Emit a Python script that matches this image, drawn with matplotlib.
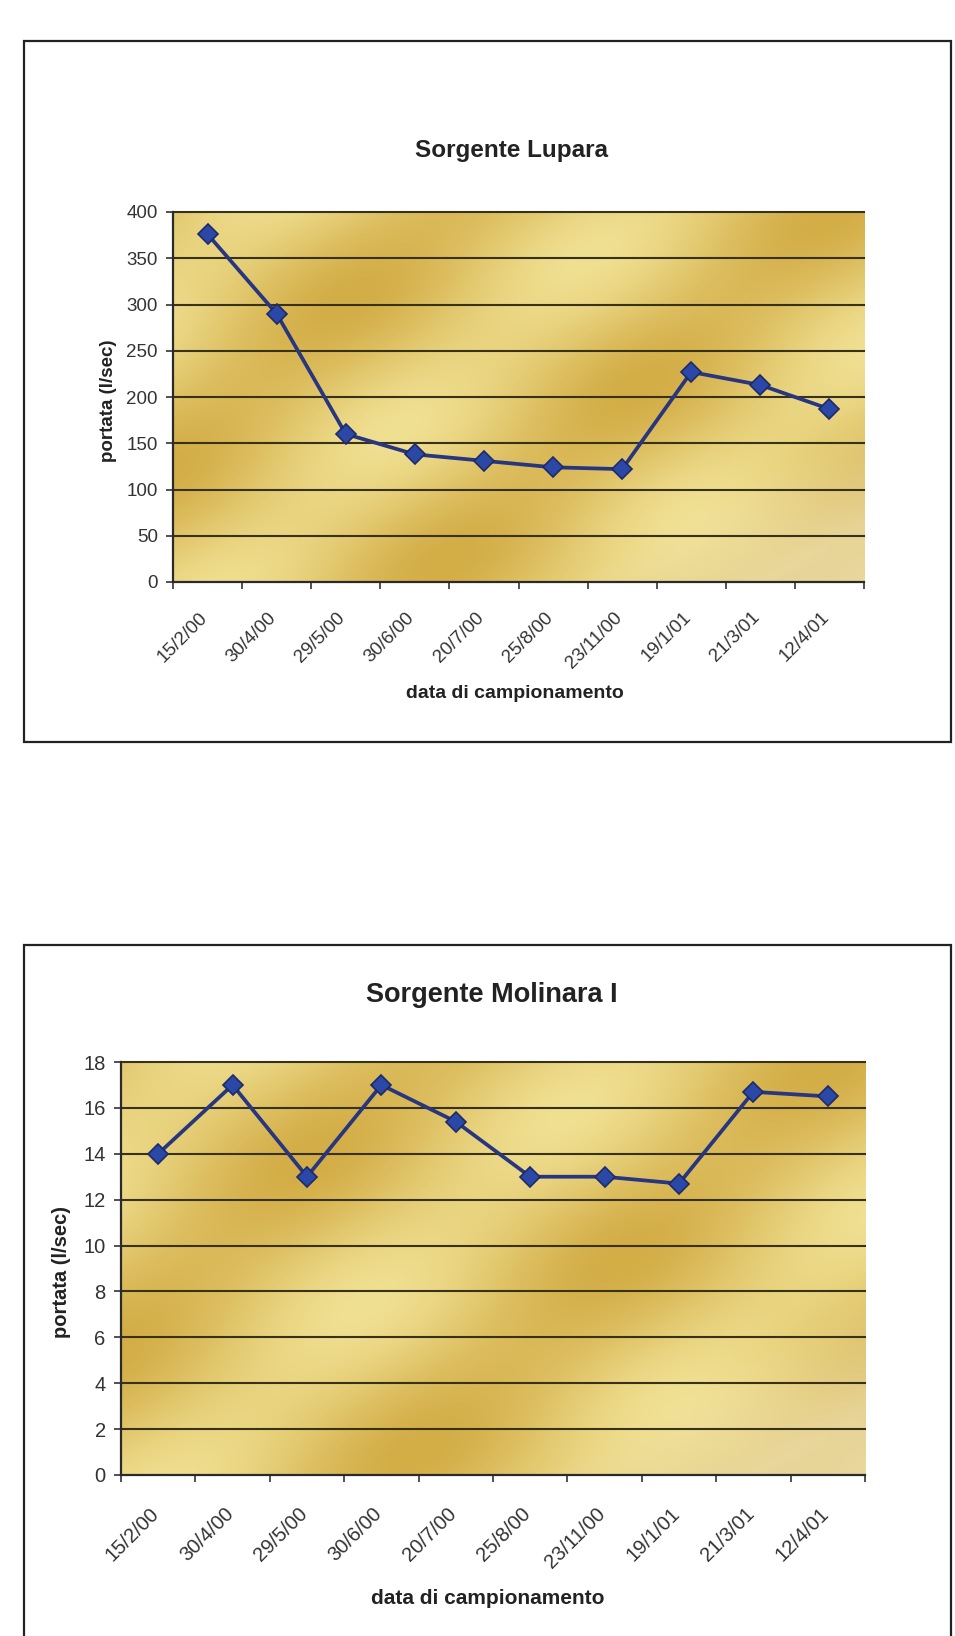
import numpy as np
import matplotlib
matplotlib.use("Agg")
import matplotlib.pyplot as plt
import matplotlib.transforms as mtransforms
from matplotlib.patches import Rectangle

plt.rcParams['font.family'] = ['Liberation Sans', 'DejaVu Sans']

# sampling dates (same for both springs)
date_labels = ["15/2/00", "30/4/00", "29/5/00", "30/6/00", "20/7/00",
               "25/8/00", "23/11/00", "19/1/01", "21/3/01", "12/4/01"]

# portata (l/sec)
lupara = [376, 290, 160, 138, 131, 124, 122, 227, 213, 187]
molinara = [14, 17, 13, 17, 15.4, 13, 13, 12.7, 16.7, 16.5]

lupara_ticks = [0, 50, 100, 150, 200, 250, 300, 350, 400]
molinara_ticks = [0, 2, 4, 6, 8, 10, 12, 14, 16, 18]

W, H = 955, 1636
fig = plt.figure(figsize=(W / 100, H / 100), dpi=100)
fig.patch.set_facecolor('white')


def fx(px):
    return px / W


def fy(py):
    return 1 - py / H


def gold_background(ax):
    # diagonal gold shading like the excel "gold" fill
    u, v = np.meshgrid(np.linspace(0, 1, 500), np.linspace(0, 1, 350))
    d = 0.85 * u - 0.5 * v
    t = (0.5 + 0.38 * np.sin(2 * np.pi * (d * 2.1 + 0.1))
         + 0.12 * np.sin(2 * np.pi * (u * 0.9 + v * 1.6 + 0.3)))
    t = np.clip(t, 0, 1)
    light = np.array([240, 224, 146]) / 255
    dark = np.array([211, 173, 70]) / 255
    img = dark + (light - dark) * t[..., None]
    # lighter bottom-right corner
    corner = np.clip((u - 0.78) * 3.5 + (0.22 - v) * 3.5, 0, 1)[..., None] * 0.55
    img = img + (np.array([243, 236, 205]) / 255 - img) * corner
    ax.imshow(img, extent=[0, 1, 0, 1], transform=ax.transAxes, origin='lower',
              aspect='auto', zorder=0, interpolation='bicubic')


def draw_chart(ax, values, yticks, title, title_xy, xlab_xy, ylab_xy, fs, tfs, dx, dy):
    n = len(values)
    x = np.arange(n) + 0.5
    gold_background(ax)
    for yt in yticks[1:]:
        ax.axhline(yt, color='#38321a', lw=1.5, zorder=1, clip_on=False)
    ax.plot(x, values, color='#27367f', lw=2.7, zorder=3,
            marker='D', markersize=10.5, markerfacecolor='#2b48a6',
            markeredgecolor='#1d2a6a', markeredgewidth=1.2)
    ax.set_xlim(0, n)
    ax.set_ylim(yticks[0], yticks[-1])
    ax.set_yticks(yticks)
    ax.set_yticklabels([str(t) for t in yticks])
    ax.set_xticks(np.arange(n + 1))
    ax.set_xticklabels([])
    ax.set_xticks(x, minor=True)
    ax.set_xticklabels(date_labels, minor=True)
    ax.tick_params(axis='y', length=5, width=1.2, color='#333', labelsize=fs, labelcolor='#333', pad=6)
    ax.tick_params(axis='x', which='major', length=5, width=1.2, color='#333')
    ax.tick_params(axis='x', which='minor', length=0, pad=0, labelsize=fs, labelcolor='#333')
    off = mtransforms.ScaledTranslation(dx / 100, -dy / 100, fig.dpi_scale_trans)
    for lab in ax.get_xticklabels(minor=True):
        lab.set_rotation(45)
        lab.set_ha('right')
        lab.set_va('top')
        lab.set_rotation_mode('anchor')
        lab.set_transform(lab.get_transform() + off)
    for s in ['top', 'right']:
        ax.spines[s].set_visible(False)
    for s in ['left', 'bottom']:
        ax.spines[s].set_color('#2a2a2a')
        ax.spines[s].set_linewidth(1.6)
    fig.text(fx(title_xy[0]), fy(title_xy[1]), title, ha='center', va='center',
             fontsize=tfs, fontweight='bold', color='#222')
    fig.text(fx(xlab_xy[0]), fy(xlab_xy[1]), 'data di campionamento', ha='center', va='center',
             fontsize=fs + 0.5, fontweight='bold', color='#222')
    fig.text(fx(ylab_xy[0]), fy(ylab_xy[1]), 'portata (l/sec)', ha='center', va='center',
             rotation=90, fontsize=fs, fontweight='bold', color='#222')


# outer frames
fig.patches.append(Rectangle((fx(24), fy(742)), fx(951) - fx(24), fy(41) - fy(742),
                             transform=fig.transFigure, fill=False, ec='#222', lw=1.6))
fig.patches.append(Rectangle((fx(24), fy(1700)), fx(951) - fx(24), fy(945) - fy(1700),
                             transform=fig.transFigure, fill=False, ec='#222', lw=1.6))

ax1 = fig.add_axes([fx(173), fy(582), fx(864) - fx(173), fy(212) - fy(582)])
draw_chart(ax1, lupara, lupara_ticks, 'Sorgente Lupara',
           (511, 151), (515, 693), (108, 401), 13.5, 17.5, -9, 27)

ax2 = fig.add_axes([fx(121), fy(1475), fx(865) - fx(121), fy(1062) - fy(1475)])
draw_chart(ax2, molinara, molinara_ticks, 'Sorgente Molinara I',
           (492, 995), (488, 1598), (61, 1272), 14.5, 19.5, -9, 29)

fig.savefig('out.png', dpi=100)
